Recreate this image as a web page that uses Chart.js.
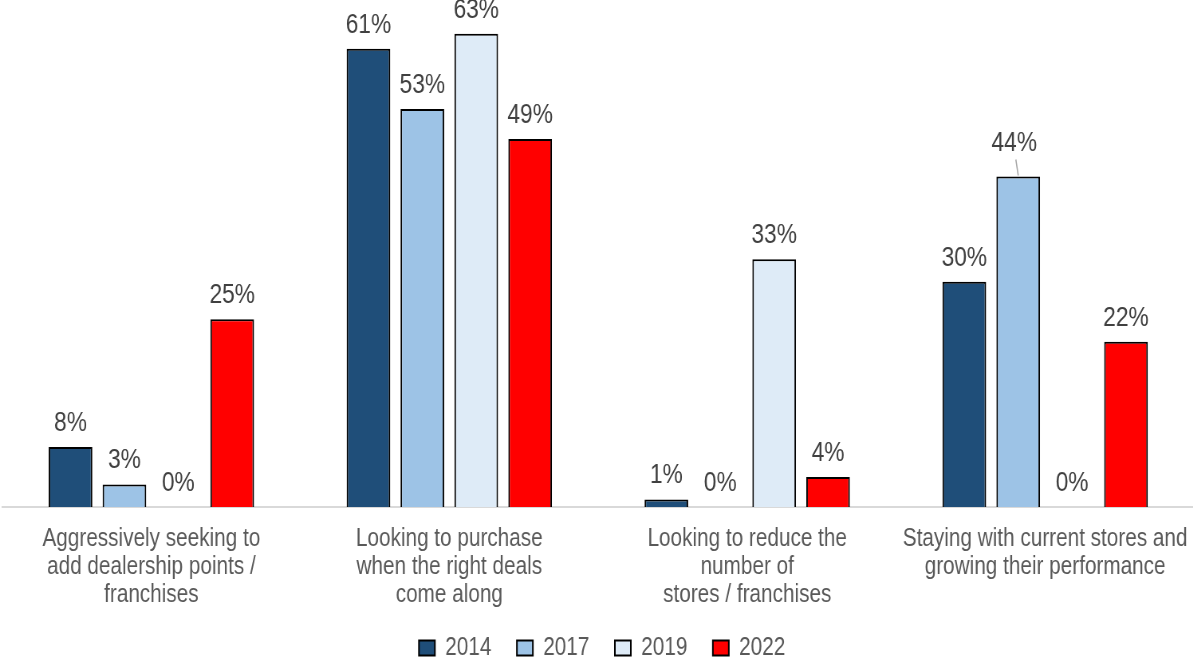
<!DOCTYPE html>
<html>
<head>
<meta charset="utf-8">
<script src="https://cdn.jsdelivr.net/npm/chart.js@4.4.1/dist/chart.umd.min.js"></script>
<style>
  html, body { margin: 0; padding: 0; background: #fff; overflow: hidden; }
  /* the chart is drawn wide and narrowed horizontally to get condensed lettering */
  #wrap { width: 1507px; height: 661px; transform: scaleX(0.7975); transform-origin: 0 0; }
</style>
</head>
<body>
<div id="wrap"><canvas id="c" width="1507" height="661"></canvas></div>
<script>
const categories = [
  ['Aggressively seeking to', 'add dealership points /', 'franchises'],
  ['Looking to purchase', 'when the right deals', 'come along'],
  ['Looking to reduce the', 'number of', 'stores / franchises'],
  ['Staying with current stores and', 'growing their performance']
];
const years = ['2014', '2017', '2019', '2022'];
const share2014 = [8, 61, 1, 30];
const share2017 = [3, 53, 0, 44];
const share2019 = [0, 63, 33, 0];
const share2022 = [25, 49, 4, 22];
const colors = ['#1F4E79', '#9DC3E6', '#DEEBF7', '#FF0000'];

const FONT = '"Liberation Sans", Arial, sans-serif';

// label nudges keyed "dataset:index"; a leader line joins a moved label to its bar
const labelShift = { '1:3': { dx: -5, dy: -10, leader: true } };

const valueLabels = {
  id: 'valueLabels',
  afterDatasetsDraw(chart) {
    const ctx = chart.ctx;
    ctx.save();
    ctx.font = '28.5px ' + FONT;
    ctx.fillStyle = '#404040';
    ctx.textAlign = 'center';
    ctx.textBaseline = 'alphabetic';
    chart.data.datasets.forEach((ds, di) => {
      chart.getDatasetMeta(di).data.forEach((bar, i) => {
        const s = labelShift[di + ':' + i] || { dx: 0, dy: 0 };
        const x = bar.x + s.dx;
        const y = bar.y - 16 + s.dy;
        ctx.fillText(ds.data[i] + '%', x, y);
        if (s.leader) {
          ctx.strokeStyle = '#A6A6A6';
          ctx.lineWidth = 1.5;
          ctx.beginPath();
          ctx.moveTo(bar.x - 3, y + 9);
          ctx.lineTo(bar.x, bar.y - 1);
          ctx.stroke();
        }
      });
    });
    ctx.restore();
  }
};

// give the three-line category labels room for descenders and
// set the legend row a little lower, near the bottom edge
const bottomRows = {
  id: 'bottomRows',
  afterLayout(chart) {
    chart.scales.x.bottom = chart.height;
    chart.legend.top += 10;
    chart.legend.bottom += 10;
  }
};

const series = [share2014, share2017, share2019, share2022];

new Chart(document.getElementById('c'), {
  type: 'bar',
  data: {
    labels: categories,
    datasets: series.map((vals, k) => ({
      label: years[k],
      data: vals,
      backgroundColor: colors[k],
      borderColor: '#000000',
      borderWidth: 2,
      categoryPercentage: 0.7236,
      barPercentage: 0.81
    }))
  },
  options: {
    responsive: false,
    animation: false,
    events: [],
    layout: { padding: { left: 3, right: 0, top: 0, bottom: 0 } },
    scales: {
      x: {
        grid: { display: false, drawTicks: false },
        border: { display: true, color: '#D9D9D9', width: 2 },
        ticks: {
          color: '#595959',
          font: { family: FONT, size: 26, lineHeight: 1.077 },
          padding: 18,
          maxRotation: 0,
          autoSkip: false
        },
        afterFit: s => { s.height = 86; }
      },
      y: {
        display: false,
        min: 0,
        max: 67.5
      }
    },
    plugins: {
      legend: {
        position: 'bottom',
        labels: {
          color: '#595959',
          font: { family: FONT, size: 26 },
          boxWidth: 20,
          boxHeight: 15,
          padding: 32
        }
      },
      tooltip: { enabled: false }
    }
  },
  plugins: [valueLabels, bottomRows]
});
</script>
</body>
</html>
